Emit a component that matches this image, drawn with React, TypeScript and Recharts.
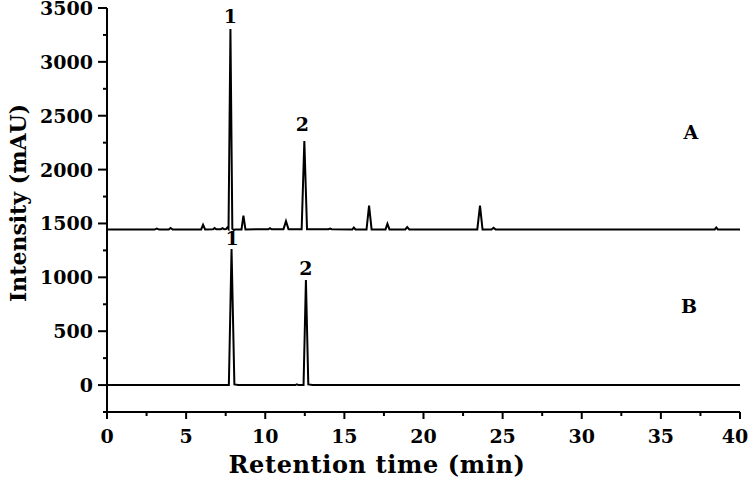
import React from 'react';
import { LineChart, Line, XAxis, YAxis, ReferenceDot } from 'recharts';

const FONT = '"DejaVu Serif", "Liberation Serif", serif';

// Trace A (upper chromatogram)
const timeA = [
  0, 2.0, 3.0, 3.15, 3.3, 3.9, 4.02, 4.15, 5.0, 5.95, 6.07, 6.2, 6.7, 6.8, 6.9, 7.2, 7.3, 7.4,
  7.52, 7.6, 7.68, 7.8, 7.92, 8.02, 8.1, 8.5, 8.62, 8.75, 9.5, 10.2, 10.3, 10.4, 11.15, 11.31, 11.47,
  12.3, 12.47, 12.64, 13.5, 14.0, 14.1, 14.2, 15.5, 15.6, 15.7, 16.4, 16.56, 16.72, 17.6, 17.72,
  17.85, 18.85, 18.97, 19.1, 21.0, 23.4, 23.57, 23.73, 24.3, 24.42, 24.55, 30.0, 38.4, 38.5, 38.6, 40,
];
const intensityA = [
  1443, 1443, 1443, 1452, 1443, 1443, 1458, 1443, 1445, 1445, 1488, 1445, 1446, 1458, 1446, 1447, 1456, 1447,
  1448, 1462, 1448, 3305, 1450, 1438, 1445, 1445, 1572, 1445, 1446, 1446, 1456, 1446, 1447, 1522, 1447,
  1447, 2265, 1447, 1446, 1446, 1452, 1446, 1445, 1462, 1445, 1445, 1665, 1445, 1445, 1497,
  1445, 1445, 1466, 1445, 1445, 1445, 1665, 1445, 1445, 1460, 1445, 1445, 1444, 1462, 1444, 1444,
];

// Trace B (lower chromatogram)
const timeB = [0, 5.0, 7.7, 7.87, 8.05, 8.3, 11.9, 12.0, 12.1, 12.42, 12.57, 12.72, 13.0, 40];
const intensityB = [0, 0, 0, 1262, 6, 0, 0, 6, 0, 0, 975, 6, 0, 0];

const xTicks = [0, 2.5, 5, 7.5, 10, 12.5, 15, 17.5, 20, 22.5, 25, 27.5, 30, 32.5, 35, 37.5, 40];
const yTicks = [-250, 0, 250, 500, 750, 1000, 1250, 1500, 1750, 2000, 2250, 2500, 2750, 3000, 3250, 3500];

const peakLabels = [
  { x: 7.8, y: 3421, text: '1' },
  { x: 12.35, y: 2423, text: '2' },
  { x: 7.9, y: 1365, text: '1' },
  { x: 12.57, y: 1082, text: '2' },
];
const traceLabels = [
  { x: 36.9, y: 2344, text: 'A' },
  { x: 36.78, y: 729, text: 'B' },
];

const dataA = timeA.map((t, i) => ({ t, v: intensityA[i] }));
const dataB = timeB.map((t, i) => ({ t, v: intensityB[i] }));

const XTick = (props: any) => {
  const { x, y, payload } = props;
  const v = payload.value;
  const major = v % 5 === 0;
  const lx = v === 40 ? x - 5 : x;
  return (
    <g>
      <line x1={x} y1={y} x2={x} y2={y + (major ? 7 : 4)} stroke="#000" strokeWidth={2} />
      {major && (
        <text x={lx} y={y + 31} textAnchor="middle" fontSize={19} fontWeight="bold" fontFamily={FONT} fill="#000">
          {v}
        </text>
      )}
    </g>
  );
};

const YTick = (props: any) => {
  const { x, y, payload } = props;
  const v = payload.value;
  const major = v % 500 === 0 && v >= 0;
  return (
    <g>
      <line x1={x} y1={y} x2={x - (major ? 9 : 4)} y2={y} stroke="#000" strokeWidth={2} />
      {major && (
        <text x={x - 14} y={y + 7} textAnchor="end" fontSize={19} fontWeight="bold" fontFamily={FONT} fill="#000">
          {v}
        </text>
      )}
    </g>
  );
};

export default function App() {
  return (
    <div style={{ position: 'absolute', left: 0, top: 0, width: 750, height: 481, background: '#fff' }}>
      <LineChart width={750} height={481} margin={{ top: 8, right: 10, bottom: 0, left: 7 }} style={{ overflow: 'visible' }}>
        <XAxis
          dataKey="t"
          type="number"
          domain={[0, 40]}
          ticks={xTicks}
          interval={0}
          tickSize={0}
          tickMargin={0}
          tickLine={false}
          tick={<XTick />}
          axisLine={{ stroke: '#000', strokeWidth: 2 }}
          height={69}
          allowDataOverflow
          label={{
            content: () => (
              <text
                x={377}
                y={473}
                textAnchor="middle"
                fontSize={24}
                fontWeight="bold"
                fontFamily={FONT}
                letterSpacing={0.6}
                fill="#000"
              >
                Retention time (min)
              </text>
            ),
          }}
        />
        <YAxis
          type="number"
          domain={[-250, 3500]}
          ticks={yTicks}
          interval={0}
          tickSize={0}
          tickMargin={0}
          tickLine={false}
          tick={<YTick />}
          axisLine={{ stroke: '#000', strokeWidth: 2 }}
          width={100}
          allowDataOverflow
          label={{
            content: () => (
              <text
                transform="translate(26,203) rotate(-90)"
                textAnchor="middle"
                fontSize={22}
                fontWeight="bold"
                fontFamily={FONT}
                fill="#000"
              >
                Intensity (mAU)
              </text>
            ),
          }}
        />
        <Line
          data={dataA}
          dataKey="v"
          type="linear"
          stroke="#000"
          strokeWidth={2}
          dot={false}
          activeDot={false}
          isAnimationActive={false}
        />
        <Line
          data={dataB}
          dataKey="v"
          type="linear"
          stroke="#000"
          strokeWidth={2}
          dot={false}
          activeDot={false}
          isAnimationActive={false}
        />
        {[...peakLabels, ...traceLabels].map((l, i) => (
          <ReferenceDot
            key={i}
            x={l.x}
            y={l.y}
            r={0}
            fill="none"
            stroke="none"
            ifOverflow="visible"
            label={{
              value: l.text,
              position: 'center',
              fontSize: 19,
              fontWeight: 'bold',
              fontFamily: FONT,
              fill: '#000',
            }}
          />
        ))}
      </LineChart>
    </div>
  );
}
